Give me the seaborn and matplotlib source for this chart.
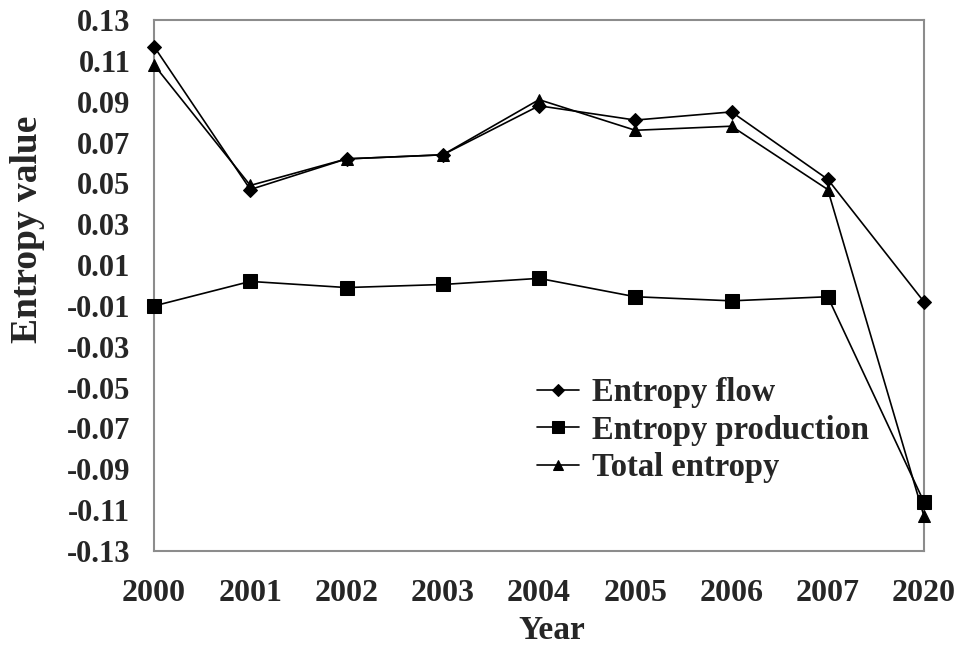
import numpy as np
import pandas as pd
import matplotlib
matplotlib.use("Agg")
import matplotlib.pyplot as plt
import seaborn as sns

# Datos
years = ["2000", "2001", "2002", "2003", "2004", "2005", "2006", "2007", "2020"]
entropy_flow = [0.117, 0.047, 0.062, 0.064, 0.088, 0.081, 0.085, 0.052, -0.008]
entropy_production = [-0.010, 0.002, -0.001, 0.0005, 0.0035, -0.0055, -0.0075, -0.0055, -0.106]
total_entropy = [0.108, 0.049, 0.062, 0.064, 0.091, 0.076, 0.078, 0.047, -0.113]
series_names = ["Entropy flow", "Entropy production", "Total entropy"]
y_ticks = [-0.13, -0.11, -0.09, -0.07, -0.05, -0.03, -0.01, 0.01, 0.03, 0.05, 0.07, 0.09, 0.11, 0.13]

pos = np.arange(len(years))
df = pd.DataFrame({
    "pos": np.tile(pos, 3),
    "value": entropy_flow + entropy_production + total_entropy,
    "serie": np.repeat(series_names, len(years)),
})

sns.set_style("white")
plt.rcParams["font.family"] = ["Liberation Serif", "DejaVu Serif"]
plt.rcParams["font.weight"] = "bold"

fig = plt.figure(figsize=(9.63, 6.45), dpi=100)
ax = fig.add_axes([0.16, 0.1457, 0.7995, 0.8233])

markers = {"Entropy flow": "D", "Entropy production": "s", "Total entropy": "^"}
sizes = {"Entropy flow": 7, "Entropy production": 9.5, "Total entropy": 9}
palette = {n: "black" for n in series_names}

sns.lineplot(data=df, x="pos", y="value", hue="serie", style="serie",
             markers=markers, dashes=False, palette=palette, linewidth=1.2,
             markeredgecolor="black", ax=ax)
for line, name in zip(ax.lines, series_names):
    line.set_markersize(sizes[name])
    line.set_clip_on(False)
    line.set_zorder(5)

ax.set_xlim(0, len(years) - 1)
ax.set_ylim(-0.13, 0.13)
ax.set_xticks(pos)
ax.set_xticklabels(years)
ax.set_yticks(y_ticks)
ax.set_yticklabels([f"{t:.2f}" for t in y_ticks])

for s in ax.spines.values():
    s.set_color("#8c8c8c")
    s.set_linewidth(1.5)
ax.tick_params(axis="both", direction="in", length=8, width=1.2, color="#8c8c8c")
ax.tick_params(axis="x", labelsize=23, pad=20)
ax.tick_params(axis="y", labelsize=22, pad=17)
for lbl in ax.get_xticklabels() + ax.get_yticklabels():
    lbl.set_fontweight("bold")

ax.set_xlabel("Year", fontsize=24, fontweight="bold")
ax.set_ylabel("Entropy value", fontsize=27, fontweight="bold")
ax.xaxis.set_label_coords(0.517, -0.12)
ax.yaxis.set_label_coords(-0.142, 0.605)

handles, labels = ax.get_legend_handles_labels()
for h, name in zip(handles, labels):
    h.set_markersize(sizes[name] * 0.85)
ax.legend(handles, labels, loc="upper left", bbox_to_anchor=(0.48, 0.352),
          frameon=False, prop={"size": 23.5, "weight": "bold"},
          handlelength=1.3, handletextpad=0.4, labelspacing=0.2,
          borderaxespad=0)

fig.savefig("out.png", dpi=100)
